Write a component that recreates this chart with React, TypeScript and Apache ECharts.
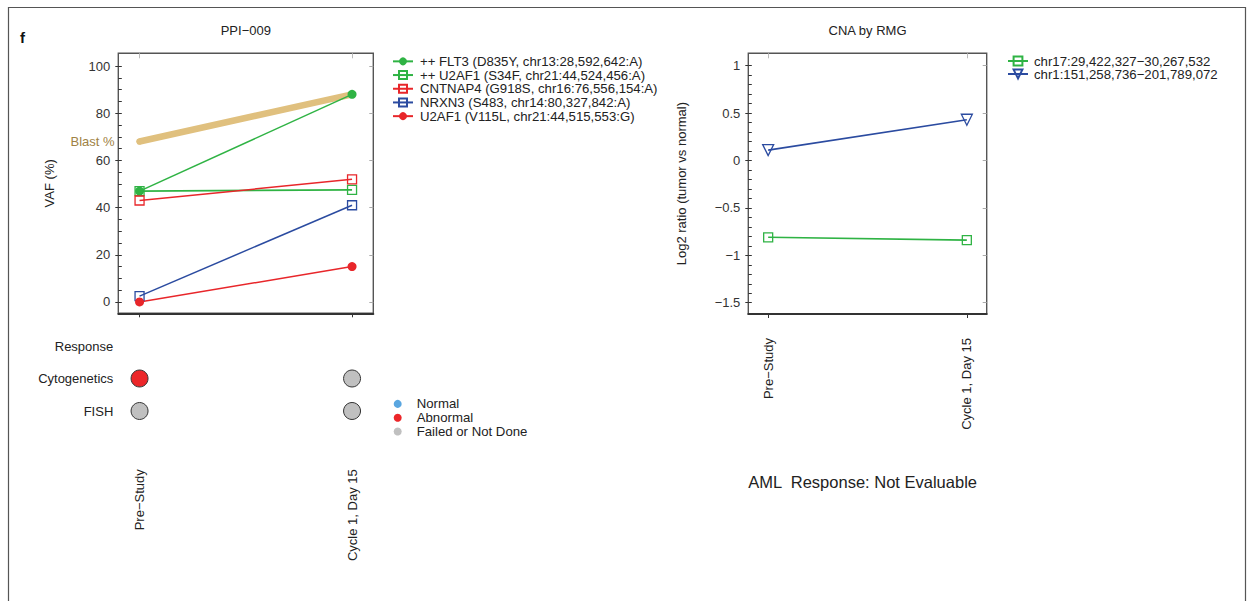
import React, { useEffect, useRef } from "react";
import * as echarts from "echarts";

// ---------- data ----------
const timepoints = ["Pre\u2212Study", "Cycle 1, Day 15"];
const blastPct = [68, 88];
const flt3 = [47, 88];
const u2af1S34F = [47, 47.5];
const cntnap4 = [43, 52];
const nrxn3 = [2.5, 41];
const u2af1V115L = [0, 15];
const chr17 = [-0.81, -0.84];
const chr1 = [0.11, 0.43];
const vafTicks = [0, 20, 40, 60, 80, 100];
const log2Ticks = [-1.5, -1, -0.5, 0, 0.5, 1];
const rowLabels = ["Response", "Cytogenetics", "FISH"];
const cytogenetics = ["Abnormal", "Failed or Not Done"];
const fish = ["Failed or Not Done", "Failed or Not Done"];
const statusNames = ["Normal", "Abnormal", "Failed or Not Done"];
const statusColors = ["#5aa6e0", "#ec2629", "#c0c0c0"];

const mutNames = [
  "++ FLT3 (D835Y, chr13:28,592,642:A)",
  "++ U2AF1 (S34F, chr21:44,524,456:A)",
  "CNTNAP4 (G918S, chr16:76,556,154:A)",
  "NRXN3 (S483, chr14:80,327,842:A)",
  "U2AF1 (V115L, chr21:44,515,553:G)",
];
const cnaNames = ["chr17:29,422,327\u221230,267,532", "chr1:151,258,736\u2212201,789,072"];

const FONT = "Liberation Sans, Arial, Helvetica, sans-serif";
const GREEN = "#2fb344";
const RED = "#e8262a";
const BLUE = "#2b4ba0";
const TAN = "#e0c07e";

const vafMinor: number[] = [];
for (let v = 0; v <= 100; v += 5) vafMinor.push(v);
const log2Minor: number[] = [];
for (let i = -15; i <= 10; i++) log2Minor.push(i / 10);

const pts = (vals: number[]) => vals.map((v, i) => [i, v]);
const minusFmt = (v: number) => (v < 0 ? "\u2212" + String(Math.abs(v)) : String(v));
const xFmt = (v: number) => timepoints[Math.round(v)] ?? "";

export default function App() {
  const ref = useRef<HTMLDivElement>(null);
  useEffect(() => {
    if (!ref.current) return;
    const chart = echarts.init(ref.current, undefined, { renderer: "svg" });

    const textColor = "#222";
    const gridL = { left: 118.3, top: 53.3, width: 255, height: 260, show: true, borderColor: "#555", borderWidth: 1.4 };
    const gridR = { left: 748.3, top: 53.3, width: 238.4, height: 260.7, show: true, borderColor: "#555", borderWidth: 1.4 };
    const gridD = { left: 118.3, top: 329.75, width: 255, height: 97.5, show: false };

    const bottomX = (gridIndex: number, labels: boolean, margin: number) => ({
      type: "value",
      gridIndex,
      position: "bottom",
      min: -0.1,
      max: 1.1,
      axisLine: { show: true, onZero: false, lineStyle: { color: "#333", width: 2 } },
      axisTick: { show: true, length: 4, customValues: [0, 1], lineStyle: { color: "#333" } },
      axisLabel: labels
        ? { show: true, customValues: [0, 1], rotate: 90, margin, fontSize: 13, color: textColor, fontFamily: FONT, formatter: xFmt }
        : { show: false },
      splitLine: { show: false },
    });
    const topX = (gridIndex: number) => ({
      type: "value",
      gridIndex,
      position: "top",
      min: -0.1,
      max: 1.1,
      axisLine: { show: false, onZero: false },
      axisTick: { show: true, inside: true, length: 5, customValues: [0, 1], lineStyle: { color: "#bbb" } },
      axisLabel: { show: false },
      splitLine: { show: false },
    });

    const yAxes = (gridIndex: number, min: number, max: number, majors: number[], minors: number[], fmt: any, name: string, nameGap: number) => [
      {
        type: "value",
        gridIndex,
        position: "left",
        min,
        max,
        name,
        nameLocation: "middle",
        nameGap,
        nameTextStyle: { fontSize: 13, color: textColor, fontFamily: FONT },
        axisLine: { show: false, onZero: false },
        axisTick: { show: true, length: 3, customValues: majors, lineStyle: { color: "#333" } },
        axisLabel: { show: true, customValues: majors, margin: 8, fontSize: 13, color: "#333", fontFamily: FONT, formatter: fmt },
        splitLine: { show: false },
      },
      {
        type: "value",
        gridIndex,
        position: "left",
        min,
        max,
        axisLine: { show: false, onZero: false },
        axisTick: { show: true, inside: true, length: 3.5, customValues: minors, lineStyle: { color: "#333" } },
        axisLabel: { show: false },
        splitLine: { show: false },
      },
      {
        type: "value",
        gridIndex,
        position: "right",
        min,
        max,
        axisLine: { show: false, onZero: false },
        axisTick: { show: true, inside: true, length: 4, customValues: majors, lineStyle: { color: "#aaa" } },
        axisLabel: { show: false },
        splitLine: { show: false },
      },
    ];

    const mutStyles = [
      { data: flt3, color: GREEN, symbol: "circle", filled: true, size: 9, width: 1.5 },
      { data: u2af1S34F, color: GREEN, symbol: "rect", filled: false, size: 9, width: 1.8 },
      { data: cntnap4, color: RED, symbol: "rect", filled: false, size: 9, width: 1.5 },
      { data: nrxn3, color: BLUE, symbol: "rect", filled: false, size: 9, width: 1.5 },
      { data: u2af1V115L, color: RED, symbol: "circle", filled: true, size: 9, width: 1.5 },
    ];

    const series: any[] = [
      {
        name: "Blast %",
        type: "line",
        xAxisIndex: 0,
        yAxisIndex: 0,
        silent: true,
        z: 1,
        data: pts(blastPct).map((p, i) =>
          i === 0
            ? { value: p, label: { show: true, position: "left", distance: 22, formatter: "Blast %", fontSize: 13, color: "#a08244", fontFamily: FONT } }
            : { value: p }
        ),
        symbol: "circle",
        symbolSize: 6,
        itemStyle: { color: TAN },
        lineStyle: { color: TAN, width: 6.5, cap: "round" },
      },
      ...mutStyles.map((m, k) => ({
        name: mutNames[k],
        type: "line",
        xAxisIndex: 0,
        yAxisIndex: 0,
        z: 3,
        data: pts(m.data),
        symbol: m.symbol,
        symbolSize: m.size,
        showSymbol: true,
        itemStyle: m.filled
          ? { color: m.color }
          : { color: "rgba(255,255,255,0)", borderColor: m.color, borderWidth: 1.3 },
        lineStyle: { color: m.color, width: m.width },
      })),
      {
        name: cnaNames[0],
        type: "line",
        xAxisIndex: 2,
        yAxisIndex: 3,
        data: pts(chr17),
        symbol: "rect",
        symbolSize: 9,
        itemStyle: { color: "rgba(255,255,255,0)", borderColor: GREEN, borderWidth: 1.3 },
        lineStyle: { color: GREEN, width: 1.6 },
      },
      {
        name: cnaNames[1],
        type: "line",
        xAxisIndex: 2,
        yAxisIndex: 3,
        data: pts(chr1),
        symbol: "triangle",
        symbolRotate: 180,
        symbolSize: 11,
        itemStyle: { color: "rgba(255,255,255,0)", borderColor: BLUE, borderWidth: 1.3 },
        lineStyle: { color: BLUE, width: 1.6 },
      },
      ...statusNames.map((s, k) => {
        const data: any[] = [];
        cytogenetics.forEach((c, i) => { if (c === s) data.push([i, "Cytogenetics"]); });
        fish.forEach((c, i) => { if (c === s) data.push([i, "FISH"]); });
        return {
          name: s,
          type: "scatter",
          xAxisIndex: 4,
          yAxisIndex: 6,
          data,
          symbol: "circle",
          symbolSize: 17,
          itemStyle: { color: statusColors[k], borderColor: "#333", borderWidth: 1, opacity: 1 },
        };
      }),
    ];

    const option: any = {
      animation: false,
      textStyle: { fontFamily: FONT },
      title: [
        { text: "PPI\u2212009", left: 245.8, top: 24, textAlign: "center", padding: 0, textStyle: { fontSize: 13, fontWeight: "normal", color: textColor, fontFamily: FONT } },
        { text: "CNA by RMG", left: 867.5, top: 24, textAlign: "center", padding: 0, textStyle: { fontSize: 13, fontWeight: "normal", color: textColor, fontFamily: FONT } },
      ],
      legend: [
        {
          data: mutNames,
          orient: "vertical",
          left: 392,
          top: 54.5,
          padding: 0,
          itemGap: 0,
          itemWidth: 20,
          itemHeight: 10,
          textStyle: { fontSize: 13.2, lineHeight: 13.7, color: textColor, fontFamily: FONT, padding: [0, 0, 0, 2] },
          selectedMode: false,
        },
        {
          data: cnaNames,
          orient: "vertical",
          left: 1007,
          top: 54.5,
          padding: 0,
          itemGap: 0,
          itemWidth: 20,
          itemHeight: 11,
          textStyle: { fontSize: 13.2, lineHeight: 12, color: textColor, fontFamily: FONT, padding: [0, 0, 0, 1] },
          selectedMode: false,
        },
        {
          data: statusNames,
          orient: "vertical",
          left: 393.7,
          top: 397,
          padding: 0,
          itemGap: 0,
          itemWidth: 18,
          itemHeight: 8,
          icon: "circle",
          itemStyle: { borderWidth: 0 },
          textStyle: { fontSize: 13.2, lineHeight: 13.8, color: textColor, fontFamily: FONT, padding: [0, 0, 0, 5] },
          selectedMode: false,
        },
      ],
      grid: [gridL, gridR, gridD],
      xAxis: [
        bottomX(0, false, 0),
        topX(0),
        bottomX(1, true, 24),
        topX(1),
        {
          type: "value",
          gridIndex: 2,
          position: "bottom",
          min: -0.1,
          max: 1.1,
          axisLine: { show: false, onZero: false },
          axisTick: { show: false },
          axisLabel: { show: true, customValues: [0, 1], rotate: 90, margin: 42, fontSize: 13, color: textColor, fontFamily: FONT, formatter: xFmt },
          splitLine: { show: false },
        },
      ],
      yAxis: [
        ...yAxes(0, -4.8, 105.4, vafTicks, vafMinor, undefined, "VAF (%)", 62),
        ...yAxes(1, -1.619, 1.131, log2Ticks, log2Minor, minusFmt, "Log2 ratio (tumor vs normal)", 60),
        {
          type: "category",
          gridIndex: 2,
          inverse: true,
          data: rowLabels,
          axisLine: { show: false, onZero: false },
          axisTick: { show: false },
          axisLabel: { show: true, margin: 5, fontSize: 13, color: textColor, fontFamily: FONT },
          splitLine: { show: false },
        },
      ],
      graphic: [
        { type: "rect", shape: { x: 8.5, y: 7.5, width: 1237, height: 660 }, style: { fill: "none", stroke: "#555", lineWidth: 1.2 }, silent: true },
        { type: "text", x: 20, y: 37.5, style: { text: "f", fontSize: 15, fontWeight: "bold", fill: "#111", fontFamily: FONT, verticalAlign: "middle" } },
        { type: "text", x: 748.3, y: 482, style: { text: "AML  Response: Not Evaluable", fontSize: 16.5, fill: textColor, fontFamily: FONT, verticalAlign: "middle" } },
      ],
      series,
    };

    chart.setOption(option);
    return () => chart.dispose();
  }, []);

  return <div ref={ref} style={{ position: "fixed", left: 0, top: 0, width: 1247, height: 601, background: "#fff" }} />;
}
